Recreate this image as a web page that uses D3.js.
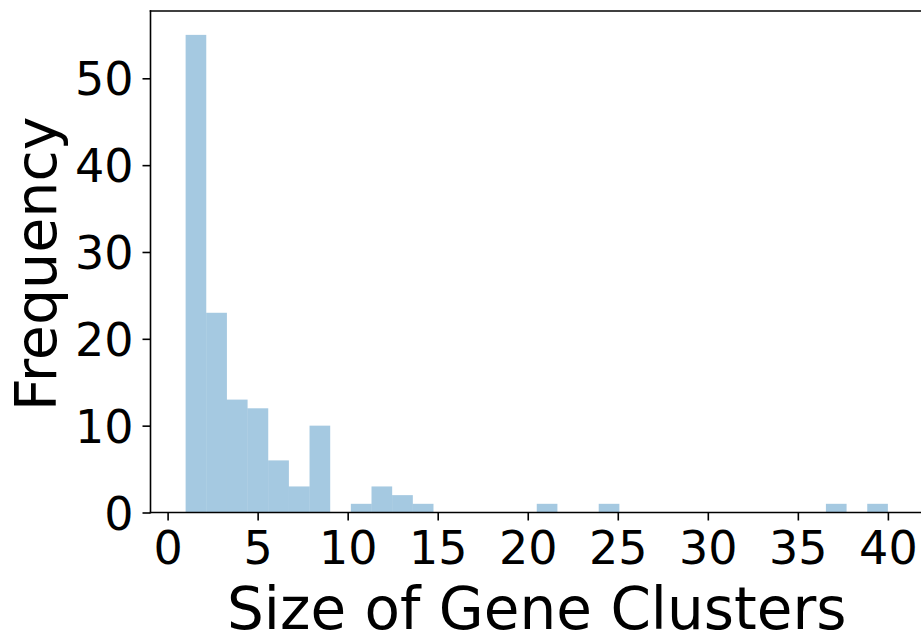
<!DOCTYPE html>
<html>
<head>
<meta charset="utf-8">
<script src="https://cdn.jsdelivr.net/npm/d3@7"></script>
<style>
  html, body { margin: 0; padding: 0; background: #fff; overflow: hidden; }
  svg { display: block; }
  text { font-family: "DejaVu Sans", sans-serif; fill: #000; }
</style>
</head>
<body>
<svg id="chart" width="921" height="637"></svg>
<script>
// Histogram definition (34 equal bins from 1 to 40)
const histMin = 1;
const histMax = 40;
const binCounts = [55, 23, 13, 12, 6, 3, 10, 0, 1, 3, 2, 1, 0, 0, 0, 0, 0, 1, 0, 0,
                   1, 0, 0, 0, 0, 0, 0, 0, 0, 0, 0, 1, 0, 1];
const xTicks = [0, 5, 10, 15, 20, 25, 30, 35, 40];
const yTicks = [0, 10, 20, 30, 40, 50];
const xLabel = "Size of Gene Clusters";
const yLabel = "Frequency";

(function () {
const svg = d3.select("#chart");
const mLeft = 150.5, mRight = 923, mTop = 11, mBottom = 512.5;
const nBins = binCounts.length;
const binW = (histMax - histMin) / nBins;
const bins = binCounts.map((c, i) => ({x0: histMin + i * binW, x1: histMin + (i + 1) * binW, count: c}));

const span = histMax - histMin;
const x = d3.scaleLinear().domain([histMin - 0.05 * span, histMax + 0.05 * span]).range([mLeft, mRight]);
const yMax = d3.max(binCounts) * 1.05;
const y = d3.scaleLinear().domain([0, yMax]).range([mBottom, mTop]);

// bars
svg.append("g").selectAll("rect").data(bins.filter(b => b.count > 0)).join("rect")
  .attr("x", d => x(d.x0))
  .attr("width", d => x(d.x1) - x(d.x0))
  .attr("y", d => y(d.count))
  .attr("height", d => y(0) - y(d.count))
  .attr("fill", "#1f77b4")
  .attr("fill-opacity", 0.4);

const tickLen = 8, tickW = 1.6;

// x axis
const xAxis = d3.axisBottom(x).tickValues(xTicks).tickSize(tickLen).tickPadding(7).tickFormat(d3.format("d"));
const gx = svg.append("g").attr("transform", `translate(0,${mBottom})`).call(xAxis);
gx.select(".domain").remove();
gx.selectAll(".tick line").attr("stroke", "#000").attr("stroke-width", tickW);
gx.selectAll(".tick text").attr("font-size", 46).attr("font-family", "DejaVu Sans").attr("dy", null)
  .attr("y", 51.5).attr("fill", "#000");

// y axis
const yAxis = d3.axisLeft(y).tickValues(yTicks).tickSize(tickLen).tickPadding(7).tickFormat(d3.format("d"));
const gy = svg.append("g").attr("transform", `translate(${mLeft},0)`).call(yAxis);
gy.select(".domain").remove();
gy.selectAll(".tick line").attr("stroke", "#000").attr("stroke-width", tickW);
gy.selectAll(".tick text").attr("font-size", 46).attr("font-family", "DejaVu Sans")
  .attr("x", -17).attr("dy", "0.36em").attr("fill", "#000");

// spines
svg.append("line").attr("x1", mLeft).attr("x2", mLeft).attr("y1", mTop).attr("y2", mBottom)
  .attr("stroke", "#000").attr("stroke-width", tickW).attr("stroke-linecap", "square");
svg.append("line").attr("x1", mLeft).attr("x2", mRight).attr("y1", mTop).attr("y2", mTop)
  .attr("stroke", "#000").attr("stroke-width", tickW).attr("stroke-linecap", "square");
svg.append("line").attr("x1", mLeft).attr("x2", mRight).attr("y1", mBottom).attr("y2", mBottom)
  .attr("stroke", "#000").attr("stroke-width", tickW).attr("stroke-linecap", "square");

// axis labels
svg.append("text").attr("x", (mLeft + mRight) / 2).attr("y", 629)
  .attr("text-anchor", "middle").attr("font-size", 58).text(xLabel);
svg.append("text").attr("transform", `translate(56,${(mTop + mBottom) / 2 + 2}) rotate(-90)`)
  .attr("text-anchor", "middle").attr("font-size", 57).text(yLabel);
})();
</script>
</body>
</html>
